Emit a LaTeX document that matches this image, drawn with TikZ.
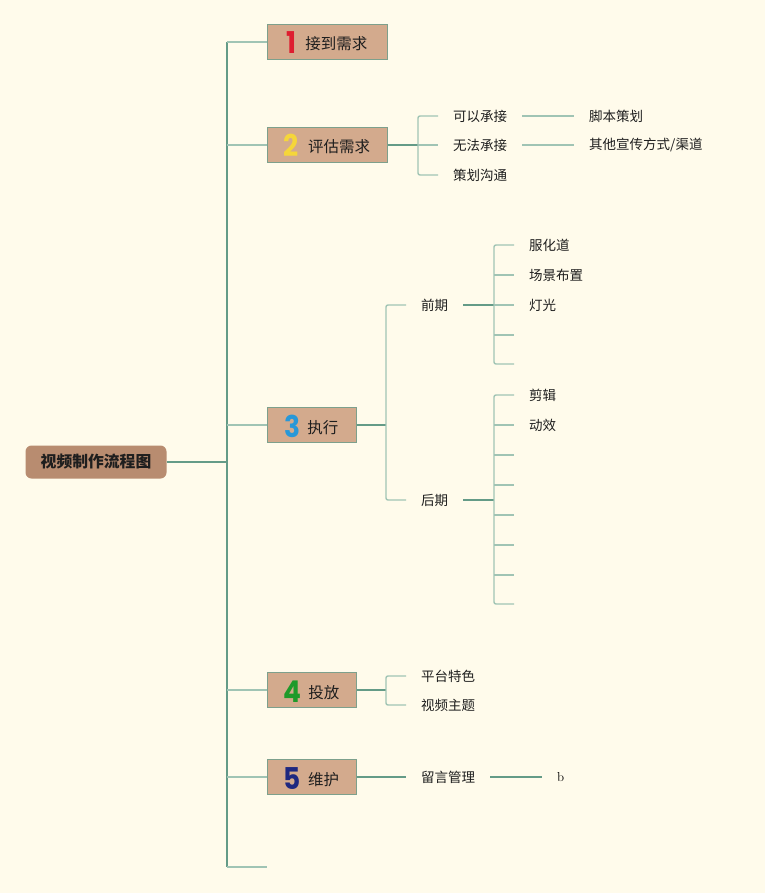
\documentclass[tikz,border=0pt]{standalone}
\usepackage{fontspec}
\usepackage{graphicx}
\newfontfamily\cjk{Noto Sans CJK SC}
\newfontfamily\numfont{Poppins}
\definecolor{bgc}{RGB}{255,251,235}
\definecolor{rootc}{RGB}{184,140,112}
\definecolor{boxc}{RGB}{211,170,141}
\definecolor{boxline}{RGB}{125,160,140}
\definecolor{darkl}{RGB}{100,155,135}
\definecolor{lightl}{RGB}{160,196,180}
\definecolor{txt}{RGB}{30,30,30}
\definecolor{n1}{RGB}{222,30,48}
\definecolor{n2}{RGB}{245,214,58}
\definecolor{n3}{RGB}{40,152,216}
\definecolor{n4}{RGB}{30,154,42}
\definecolor{n5}{RGB}{30,40,128}
\newcommand\numc[2]{\raisebox{-4pt}{\smash{\scalebox{0.88}[1]{\color{#1}\numfont\fontsize{30}{30}\selectfont\bfseries #2}}}}
\tikzset{
  rootbox/.style={rounded corners=6pt, fill=rootc, minimum width=141pt, minimum height=33pt,
    font=\cjk\bfseries\fontsize{15.8}{16}\selectfont, text=txt},
  lvlbox/.style={draw=boxline, fill=boxc, minimum height=35pt, line width=1pt, inner xsep=0pt,
    text height=20pt, text depth=4pt,
    font=\cjk\fontsize{15.5}{16}\selectfont, text=txt},
  leaf/.style={font=\cjk\fontsize{13.5}{14}\selectfont, inner xsep=15pt, inner ysep=0pt, anchor=west, text=txt},
  trunkline/.style={draw=darkl, line width=1.4pt},
  brline/.style={draw=lightl, line width=1.4pt, rounded corners=2pt},
}
\begin{document}
\begin{tikzpicture}[x=1pt,y=-1pt]
\useasboundingbox[fill=bgc] (0,0) rectangle (765,893);
% root and trunk
\node[rootbox] (root) at (96,462) {视频制作流程图};
\coordinate (t0) at (227,462);
\coordinate (ttop) at (227,42);
\coordinate (tbot) at (227,867);
\coordinate (e6) at (267,867);
\node[lvlbox, minimum width=120pt] (s1) at (327,42) {\numc{n1}{1}\hspace{9pt}接到需求};
\node[lvlbox, minimum width=120pt] (s2) at (327,145) {\numc{n2}{2}\hspace{9pt}评估需求};
\node[lvlbox, minimum width=89pt] (s3) at (311.5,425) {\numc{n3}{3}\hspace{7pt}执行};
\node[lvlbox, minimum width=89pt] (s4) at (311.5,690) {\numc{n4}{4}\hspace{7pt}投放};
\node[lvlbox, minimum width=89pt] (s5) at (311.5,777) {\numc{n5}{5}\hspace{7pt}维护};
\draw[trunkline] (root.east) -- (t0);
\draw[trunkline] (ttop) -- (tbot);
\draw[brline] (ttop) -- (s1.west);
\draw[brline] (s2.west -| ttop) -- (s2.west);
\draw[brline] (s3.west -| ttop) -- (s3.west);
\draw[brline] (s4.west -| ttop) -- (s4.west);
\draw[brline] (s5.west -| ttop) -- (s5.west);
\draw[brline] (tbot) -- (e6);
% branch 2
\node[leaf] (c21) at (438,116) {可以承接};
\node[leaf] (c22) at (438,145) {无法承接};
\node[leaf] (c23) at (438,175) {策划沟通};
\node[leaf] (d21) at (574,116) {脚本策划};
\node[leaf] (d22) at (574,145) {其他宣传方式/渠道};
\coordinate (b2) at (418,145);
\draw[trunkline] (s2.east) -- (b2);
\draw[brline] (c21.west) -- (c21.west -| b2) -- (c23.west -| b2) -- (c23.west);
\draw[brline] (b2) -- (c22.west);
\draw[brline] (c21.east) -- (d21.west);
\draw[brline] (c22.east) -- (d22.west);
% branch 3
\coordinate (b3) at (386,425);
\node[leaf] (p1) at (406,305) {前期};
\node[leaf] (p2) at (406,500) {后期};
\draw[trunkline] (s3.east) -- (b3);
\draw[brline] (p1.west) -- (p1.west -| b3) -- (p2.west -| b3) -- (p2.west);
% 前期
\coordinate (bp1) at (494,305);
\node[leaf] (q1) at (514,245) {服化道};
\node[leaf] (q2) at (514,275) {场景布置};
\node[leaf] (q3) at (514,305) {灯光};
\coordinate (q4) at (514,335);
\coordinate (q5) at (514,364);
\draw[trunkline] (p1.east) -- (bp1);
\draw[brline] (q1.west) -- (q1.west -| bp1) -- (q5 -| bp1) -- (q5);
\draw[brline] (q2.west -| bp1) -- (q2.west);
\draw[brline] (q3.west -| bp1) -- (q3.west);
\draw[brline] (q4 -| bp1) -- (q4);
% 后期
\coordinate (bp2) at (494,500);
\node[leaf] (r1) at (514,395) {剪辑};
\node[leaf] (r2) at (514,425) {动效};
\coordinate (r3) at (514,455);
\coordinate (r4) at (514,485);
\coordinate (r5) at (514,515);
\coordinate (r6) at (514,545);
\coordinate (r7) at (514,575);
\coordinate (r8) at (514,604);
\draw[trunkline] (p2.east) -- (bp2);
\draw[brline] (r1.west) -- (r1.west -| bp2) -- (r8 -| bp2) -- (r8);
\draw[brline] (r2.west -| bp2) -- (r2.west);
\foreach \r in {r3,r4,r5,r6,r7} { \draw[brline] (\r -| bp2) -- (\r); }
% branch 4
\coordinate (b4) at (386,690);
\node[leaf] (u1) at (406,676) {平台特色};
\node[leaf] (u2) at (406,705) {视频主题};
\draw[trunkline] (s4.east) -- (b4);
\draw[brline] (u1.west) -- (u1.west -| b4) -- (u2.west -| b4) -- (u2.west);
% branch 5
\node[leaf] (v1) at (406,777) {留言管理};
\node[leaf, font=\fontsize{13}{13}\selectfont, text=black] (w1) at (542,777) {b};
\draw[trunkline] (s5.east) -- (v1.west);
\draw[trunkline] (v1.east) -- (w1.west);
\end{tikzpicture}
\end{document}
